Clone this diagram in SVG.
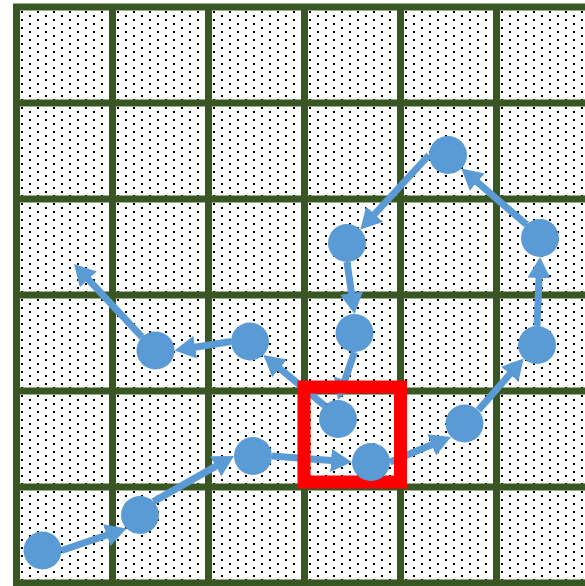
<svg xmlns="http://www.w3.org/2000/svg" width="585" height="586" viewBox="0 0 585 586">
  <defs>
    <pattern id="dots" patternUnits="userSpaceOnUse" x="0" y="0" width="16" height="8">
      <rect x="5" y="3" width="2" height="2" fill="#000"/>
      <rect x="13" y="7" width="2" height="1" fill="#000"/>
      <rect x="13" y="0" width="2" height="1" fill="#000"/>
    </pattern>
    <marker id="head" markerUnits="userSpaceOnUse" viewBox="0 0 21 23" markerWidth="21" markerHeight="23" refX="10" refY="11.5" orient="auto">
      <path d="M0,0 L21,11.5 L0,23 Z" fill="#5B9BD5"/>
    </marker>
    <style>
      .grid { fill: none; stroke: #385723; stroke-width: 7; }
      .conn { fill: none; stroke: #5B9BD5; stroke-width: 7; marker-end: url(#head); }
      .node { fill: #5B9BD5; }
      .focus { fill: none; stroke: #FF0000; stroke-width: 13; }
    </style>
  </defs>
  <rect width="585" height="586" fill="#fff"/>
  <g id="grid">
    <rect x="16.5" y="7" width="576" height="576" fill="url(#dots)"/>
    <path class="grid" d="M16.5,7 V583 M112.5,7 V583 M208.5,7 V583 M304.5,7 V583 M400.5,7 V583 M496.5,7 V583 M13,7 H592 M13,103 H592 M13,199 H592 M13,295 H592 M13,391 H592 M13,487 H592 M13,583 H592"/>
  </g>
  <g id="connectors">
    <path class="conn" d="M61.5,550.5 L116.18,531.94"/>
    <path class="conn" d="M153.4,501.6 L224.43,461.42"/>
    <path class="conn" d="M272,456 L341.03,461.18"/>
    <path class="conn" d="M390,462 L440.92,441.08"/>
    <path class="conn" d="M478.4,410.1 L516.36,366.68"/>
    <path class="conn" d="M537,326 L539.52,267.99"/>
    <path class="conn" d="M526.6,224.6 L469.73,175.58"/>
    <path class="conn" d="M429,155 L367.85,221.5"/>
    <path class="conn" d="M347,262 L352.93,303.11"/>
    <path class="conn" d="M354.5,352 L341.58,389.6"/>
    <path class="conn" d="M324.6,405.6 L271.87,361.92"/>
    <path class="conn" d="M231,341.5 L185.36,348.77"/>
    <path class="conn" d="M142.1,337.1 L81.5,272.05"/>
  </g>
  <g id="highlight">
    <rect class="focus" x="304" y="387" width="96.5" height="95"/>
  </g>
  <g id="n1"><circle class="node" cx="42.5" cy="550.5" r="19"/></g>
  <g id="n2"><circle class="node" cx="140" cy="515" r="19"/></g>
  <g id="n3"><circle class="node" cx="253" cy="456" r="19"/></g>
  <g id="n4"><circle class="node" cx="371" cy="462" r="19"/></g>
  <g id="n5"><circle class="node" cx="464.5" cy="423.5" r="19"/></g>
  <g id="n6"><circle class="node" cx="537" cy="345" r="19"/></g>
  <g id="n7"><circle class="node" cx="540" cy="238" r="19"/></g>
  <g id="n8"><circle class="node" cx="448" cy="155" r="19"/></g>
  <g id="n9"><circle class="node" cx="347" cy="243" r="19"/></g>
  <g id="n10"><circle class="node" cx="354.5" cy="333" r="19"/></g>
  <g id="n11"><circle class="node" cx="338" cy="419" r="19"/></g>
  <g id="n12"><circle class="node" cx="250" cy="341.5" r="19"/></g>
  <g id="n13"><circle class="node" cx="155.5" cy="350.5" r="19"/></g>
</svg>
